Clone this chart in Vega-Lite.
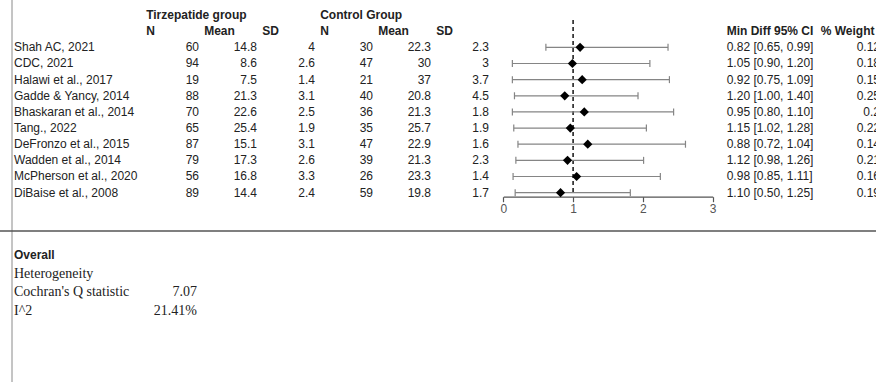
{
  "$schema": "https://vega.github.io/schema/vega-lite/v6.json",
  "width": 876,
  "height": 382,
  "autosize": {"type": "none"},
  "padding": 0,
  "background": "white",
  "config": {
    "view": {"stroke": null},
    "text": {"font": "Liberation Sans", "fontSize": 12, "color": "#222222", "baseline": "middle"}
  },
  "datasets": {
    "studies": [
      {"Study": "Shah AC, 2021", "tN": 60, "tMean": 14.8, "tSD": 4, "cN": 30, "cMean": 22.3, "cSD": 2.3, "est": 1.10, "lo": 0.61, "hi": 2.36, "ci": "0.82 [0.65, 0.99]", "weight": 0.12},
      {"Study": "CDC, 2021", "tN": 94, "tMean": 8.6, "tSD": 2.6, "cN": 47, "cMean": 30, "cSD": 3, "est": 0.99, "lo": 0.13, "hi": 2.10, "ci": "1.05 [0.90, 1.20]", "weight": 0.18},
      {"Study": "Halawi et al., 2017", "tN": 19, "tMean": 7.5, "tSD": 1.4, "cN": 21, "cMean": 37, "cSD": 3.7, "est": 1.13, "lo": 0.13, "hi": 2.38, "ci": "0.92 [0.75, 1.09]", "weight": 0.15},
      {"Study": "Gadde & Yancy, 2014", "tN": 88, "tMean": 21.3, "tSD": 3.1, "cN": 40, "cMean": 20.8, "cSD": 4.5, "est": 0.88, "lo": 0.16, "hi": 1.93, "ci": "1.20 [1.00, 1.40]", "weight": 0.25},
      {"Study": "Bhaskaran et al., 2014", "tN": 70, "tMean": 22.6, "tSD": 2.5, "cN": 36, "cMean": 21.3, "cSD": 1.8, "est": 1.16, "lo": 0.13, "hi": 2.44, "ci": "0.95 [0.80, 1.10]", "weight": 0.2},
      {"Study": "Tang., 2022", "tN": 65, "tMean": 25.4, "tSD": 1.9, "cN": 35, "cMean": 25.7, "cSD": 1.9, "est": 0.96, "lo": 0.15, "hi": 2.05, "ci": "1.15 [1.02, 1.28]", "weight": 0.22},
      {"Study": "DeFronzo et al., 2015", "tN": 87, "tMean": 15.1, "tSD": 3.1, "cN": 47, "cMean": 22.9, "cSD": 1.6, "est": 1.21, "lo": 0.21, "hi": 2.61, "ci": "0.88 [0.72, 1.04]", "weight": 0.14},
      {"Study": "Wadden et al., 2014", "tN": 79, "tMean": 17.3, "tSD": 2.6, "cN": 39, "cMean": 21.3, "cSD": 2.3, "est": 0.92, "lo": 0.18, "hi": 2.01, "ci": "1.12 [0.98, 1.26]", "weight": 0.21},
      {"Study": "McPherson et al., 2020", "tN": 56, "tMean": 16.8, "tSD": 3.3, "cN": 26, "cMean": 23.3, "cSD": 1.4, "est": 1.05, "lo": 0.14, "hi": 2.25, "ci": "0.98 [0.85, 1.11]", "weight": 0.16},
      {"Study": "DiBaise et al., 2008", "tN": 89, "tMean": 14.4, "tSD": 2.4, "cN": 59, "cMean": 19.8, "cSD": 1.7, "est": 0.82, "lo": 0.17, "hi": 1.82, "ci": "1.10 [0.50, 1.25]", "weight": 0.19}
    ],
    "headers": [
      {"line": "hdr1", "key": "tN", "label": "Tirzepatide group"},
      {"line": "hdr1", "key": "cN", "label": "Control Group"},
      {"line": "hdr2", "key": "tN", "label": "N"},
      {"line": "hdr2", "key": "tMean", "label": "Mean"},
      {"line": "hdr2", "key": "tSD", "label": "SD"},
      {"line": "hdr2", "key": "cN", "label": "N"},
      {"line": "hdr2", "key": "cMean", "label": "Mean"},
      {"line": "hdr2", "key": "cSD", "label": "SD"}
    ],
    "rightHeaders": [
      {"col": "ci", "label": "Min Diff 95% CI"},
      {"col": "weight", "label": "% Weight"}
    ],
    "summary": [
      {"label": "Overall", "value": ""},
      {"label": "Heterogeneity", "value": ""},
      {"label": "Cochran's Q statistic", "value": "7.07"},
      {"label": "I^2", "value": "21.41%"}
    ]
  },
  "layer": [
    {
      "data": {"name": "studies"},
      "layer": [
        {
          "data": {"values": [{}]},
          "mark": {"type": "rule", "color": "#8a8a8a", "strokeWidth": 1},
          "encoding": {
            "x": {"datum": "Study", "type": "nominal", "bandPosition": 0,
                  "scale": {"type": "band", "domain": ["Study"], "range": [12, 145], "paddingInner": 0, "paddingOuter": 0}, "axis": null}
          }
        },
        {
          "mark": {"type": "text", "align": "left"},
          "encoding": {
            "x": {"datum": "Study", "type": "nominal", "bandPosition": 0.015},
            "y": {"field": "Study", "type": "nominal",
                  "scale": {"type": "band", "domain": ["hdr1", "hdr2", "Shah AC, 2021", "CDC, 2021", "Halawi et al., 2017", "Gadde & Yancy, 2014", "Bhaskaran et al., 2014", "Tang., 2022", "DeFronzo et al., 2015", "Wadden et al., 2014", "McPherson et al., 2020", "DiBaise et al., 2008"], "range": [7, 200.7], "paddingInner": 0, "paddingOuter": 0}, "axis": null},
            "text": {"field": "Study", "type": "nominal"}
          }
        }
      ]
    },
    {
      "layer": [
        {
          "data": {"name": "headers"},
          "mark": {"type": "text", "align": "left", "fontWeight": "bold"},
          "encoding": {
            "x": {"field": "key", "type": "nominal", "bandPosition": 0.02,
                  "scale": {"type": "band", "domain": ["tN", "tMean", "tSD", "cN", "cMean", "cSD"], "range": [145, 493], "paddingInner": 0, "paddingOuter": 0}, "axis": null},
            "y": {"field": "line", "type": "nominal",
                  "scale": {"type": "band", "domain": ["hdr1", "hdr2", "Shah AC, 2021", "CDC, 2021", "Halawi et al., 2017", "Gadde & Yancy, 2014", "Bhaskaran et al., 2014", "Tang., 2022", "DeFronzo et al., 2015", "Wadden et al., 2014", "McPherson et al., 2020", "DiBaise et al., 2008"], "range": [7, 200.7], "paddingInner": 0, "paddingOuter": 0}, "axis": null},
            "text": {"field": "label", "type": "nominal"}
          }
        },
        {
          "data": {"name": "studies"},
          "transform": [{"fold": ["tN", "tMean", "tSD", "cN", "cMean", "cSD"], "as": ["key", "value"]}],
          "mark": {"type": "text", "align": "right"},
          "encoding": {
            "x": {"field": "key", "type": "nominal", "bandPosition": 0.931},
            "y": {"field": "Study", "type": "nominal"},
            "text": {"field": "value", "type": "nominal"}
          }
        }
      ]
    },
    {
      "layer": [
        {
          "data": {"name": "rightHeaders"},
          "mark": {"type": "text", "align": "left", "fontWeight": "bold"},
          "encoding": {
            "x": {"field": "col", "type": "nominal", "bandPosition": 0,
                  "scale": {"type": "band", "domain": ["ci", "weight"], "range": [726.7, 914.7], "paddingInner": 0, "paddingOuter": 0}, "axis": null},
            "y": {"datum": "hdr2", "type": "nominal",
                  "scale": {"type": "band", "domain": ["hdr1", "hdr2", "Shah AC, 2021", "CDC, 2021", "Halawi et al., 2017", "Gadde & Yancy, 2014", "Bhaskaran et al., 2014", "Tang., 2022", "DeFronzo et al., 2015", "Wadden et al., 2014", "McPherson et al., 2020", "DiBaise et al., 2008"], "range": [7, 200.7], "paddingInner": 0, "paddingOuter": 0}, "axis": null},
            "text": {"field": "label", "type": "nominal"}
          }
        },
        {
          "data": {"name": "studies"},
          "mark": {"type": "text", "align": "left"},
          "encoding": {
            "x": {"datum": "ci", "type": "nominal", "bandPosition": 0},
            "y": {"field": "Study", "type": "nominal"},
            "text": {"field": "ci", "type": "nominal"}
          }
        },
        {
          "data": {"name": "studies"},
          "mark": {"type": "text", "align": "right"},
          "encoding": {
            "x": {"datum": "weight", "type": "nominal", "bandPosition": 0.631},
            "y": {"field": "Study", "type": "nominal"},
            "text": {"field": "weight", "type": "nominal"}
          }
        }
      ]
    },
    {
      "layer": [
        {
          "data": {"values": [{}]},
          "mark": {"type": "rule", "color": "#222222", "strokeWidth": 1.6, "strokeDash": [4, 3]},
          "encoding": {
            "x": {"datum": 1, "type": "quantitative",
                  "scale": {"domain": [0, 3], "range": [503.3, 712.7], "nice": false, "zero": false},
                  "axis": {"orient": "bottom", "offset": -185.3, "values": [0, 1, 2, 3], "title": null, "grid": false,
                           "domainColor": "#555555", "domainWidth": 1.3, "tickColor": "#555555", "tickWidth": 1.2, "tickSize": 5,
                           "labelColor": "#555555", "labelFont": "Liberation Sans", "labelFontSize": 12, "labelPadding": 2,
                           "labelFlush": false, "labelOverlap": false, "format": "d"}},
            "y": {"datum": "hdr1", "type": "nominal", "bandPosition": 0.8,
                  "scale": {"type": "band", "domain": ["hdr1", "hdr2", "Shah AC, 2021", "CDC, 2021", "Halawi et al., 2017", "Gadde & Yancy, 2014", "Bhaskaran et al., 2014", "Tang., 2022", "DeFronzo et al., 2015", "Wadden et al., 2014", "McPherson et al., 2020", "DiBaise et al., 2008"], "range": [7, 200.7], "paddingInner": 0, "paddingOuter": 0}, "axis": null},
            "y2": {"datum": "DiBaise et al., 2008"}
          }
        },
        {
          "data": {"name": "studies"},
          "mark": {"type": "rule", "color": "#858585", "strokeWidth": 1.2},
          "encoding": {
            "x": {"field": "lo", "type": "quantitative"},
            "x2": {"field": "hi"},
            "y": {"field": "Study", "type": "nominal"}
          }
        },
        {
          "data": {"name": "studies"},
          "mark": {"type": "tick", "orient": "vertical", "color": "#858585", "size": 7, "thickness": 1.2, "opacity": 1},
          "encoding": {
            "x": {"field": "lo", "type": "quantitative"},
            "y": {"field": "Study", "type": "nominal"}
          }
        },
        {
          "data": {"name": "studies"},
          "mark": {"type": "tick", "orient": "vertical", "color": "#858585", "size": 7, "thickness": 1.2, "opacity": 1},
          "encoding": {
            "x": {"field": "hi", "type": "quantitative"},
            "y": {"field": "Study", "type": "nominal"}
          }
        },
        {
          "data": {"name": "studies"},
          "mark": {"type": "point", "shape": "diamond", "filled": true, "color": "#000000", "size": 85, "opacity": 1},
          "encoding": {
            "x": {"field": "est", "type": "quantitative"},
            "y": {"field": "Study", "type": "nominal"}
          }
        }
      ]
    },
    {
      "data": {"name": "summary"},
      "layer": [
        {
          "data": {"values": [{}]},
          "mark": {"type": "rule", "color": "#555555", "strokeWidth": 1.3},
          "encoding": {
            "y": {"datum": "sep", "type": "nominal", "bandPosition": 0.19,
                  "scale": {"type": "band", "domain": ["sep", "Overall", "Heterogeneity", "Cochran's Q statistic", "I^2"], "range": [227.5, 320], "paddingInner": 0, "paddingOuter": 0}, "axis": null}
          }
        },
        {
          "transform": [{"filter": "datum.label === 'Overall'"}],
          "mark": {"type": "text", "align": "left", "fontWeight": "bold"},
          "encoding": {
            "x": {"datum": "label", "type": "nominal", "bandPosition": 0,
                  "scale": {"type": "band", "domain": ["label", "value"], "range": [14, 197], "paddingInner": 0, "paddingOuter": 0}, "axis": null},
            "y": {"field": "label", "type": "nominal"},
            "text": {"field": "label", "type": "nominal"}
          }
        },
        {
          "transform": [{"filter": "datum.label !== 'Overall'"}],
          "mark": {"type": "text", "align": "left", "font": "Liberation Serif", "fontSize": 14},
          "encoding": {
            "x": {"datum": "label", "type": "nominal", "bandPosition": 0},
            "y": {"field": "label", "type": "nominal"},
            "text": {"field": "label", "type": "nominal"}
          }
        },
        {
          "mark": {"type": "text", "align": "right", "font": "Liberation Serif", "fontSize": 14},
          "encoding": {
            "x": {"datum": "value", "type": "nominal", "bandPosition": 1},
            "y": {"field": "label", "type": "nominal"},
            "text": {"field": "value", "type": "nominal"}
          }
        }
      ]
    }
  ],
  "resolve": {"scale": {"x": "independent", "y": "independent"}, "axis": {"x": "independent", "y": "independent"}}
}
